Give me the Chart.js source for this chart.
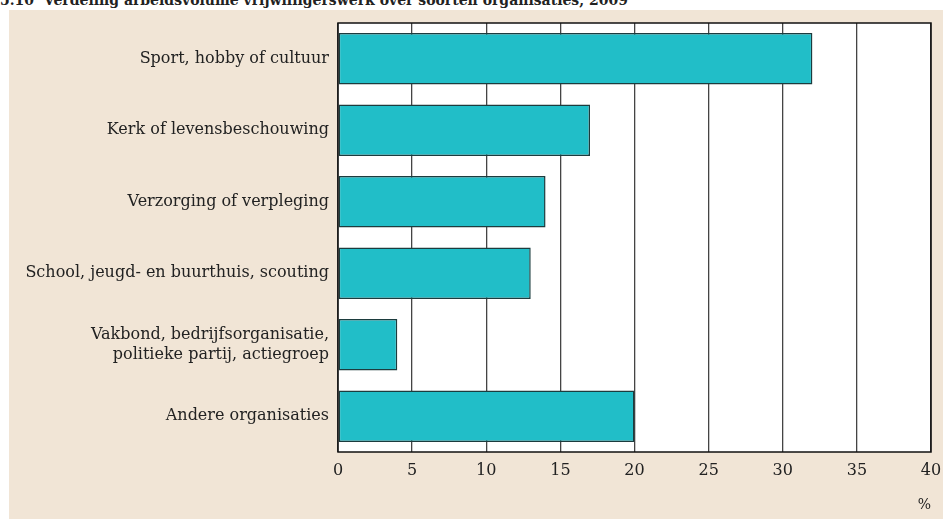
<!DOCTYPE html>
<html>
<head>
<meta charset="utf-8">
<script src="https://cdn.jsdelivr.net/npm/chart.js@4.4.0/dist/chart.umd.min.js"></script>
<style>
  body { margin: 0; background: #fff; }
  #wrap { position: relative; width: 943px; height: 519px; overflow: hidden; }
  #title { position: absolute; left: 0; top: -8px; font: bold 14px "DejaVu Serif", serif; color: #222; white-space: nowrap; }
  #panel { position: absolute; left: 9px; top: 10px; width: 934px; height: 509px; background: #f1e5d6; }
  canvas { position: absolute; left: 0; top: 0; }
</style>
</head>
<body>
<div id="wrap">
  <div id="title">5.10&nbsp;&nbsp;Verdeling arbeidsvolume vrijwilligerswerk over soorten organisaties, 2009</div>
  <div id="panel"></div>
  <canvas id="chart" width="943" height="519"></canvas>
</div>
<script>
// Data
const categories = [
    'Sport, hobby of cultuur',
    'Kerk of levensbeschouwing',
    'Verzorging of verpleging',
    'School, jeugd- en buurthuis, scouting',
    ['Vakbond, bedrijfsorganisatie,', 'politieke partij, actiegroep'],
    'Andere organisaties'
];
const shares = [32, 17, 14, 13, 4, 20];
const xTicks = [0, 5, 10, 15, 20, 25, 30, 35, 40];

const labelFont = 'DejaVu Serif';

// White plot area behind bars, black frame on top
const plotFrame = {
    id: 'plotFrame',
    beforeDraw(chart) {
        const { ctx, chartArea: a } = chart;
        ctx.save();
        ctx.fillStyle = '#ffffff';
        ctx.fillRect(a.left, a.top, a.right - a.left, a.bottom - a.top);
        ctx.restore();
    },
    afterDraw(chart) {
        const { ctx, chartArea: a } = chart;
        ctx.save();
        ctx.strokeStyle = '#111';
        ctx.lineWidth = 1.5;
        ctx.strokeRect(a.left, a.top, a.right - a.left, a.bottom - a.top);
        ctx.restore();
    }
};

const ctx = document.getElementById('chart').getContext('2d');
new Chart(ctx, {
    type: 'bar',
    data: {
        labels: categories,
        datasets: [{
            data: shares,
            backgroundColor: '#21bec8',
            borderColor: '#1c3c3e',
            borderWidth: 1.5,
            borderSkipped: false,
            categoryPercentage: 1,
            barPercentage: 0.72
        }]
    },
    options: {
        indexAxis: 'y',
        responsive: false,
        animation: false,
        layout: { padding: { left: 9, top: 23, right: 12, bottom: 0 } },
        plugins: {
            legend: { display: false },
            tooltip: { enabled: false }
        },
        scales: {
            x: {
                min: 0,
                max: 40,
                afterBuildTicks: scale => { scale.ticks = xTicks.map(v => ({ value: v })); },
                afterFit: scale => {
                    scale.height = 67;
                    scale.paddingLeft = 0;
                    scale.paddingRight = 0;
                },
                grid: { color: '#444', lineWidth: 1.3, drawTicks: false },
                border: { display: false },
                ticks: {
                    color: '#222',
                    padding: 9,
                    font: { family: labelFont, size: 16 }
                },
                title: {
                    display: true,
                    text: '%',
                    align: 'end',
                    color: '#222',
                    font: { family: labelFont, size: 14 },
                    padding: { top: 0, bottom: 5 }
                }
            },
            y: {
                afterFit: scale => { scale.width = 329; },
                grid: { display: false, drawTicks: false },
                border: { display: false },
                ticks: {
                    color: '#222',
                    padding: 9,
                    font: { family: labelFont, size: 16, lineHeight: 1.25 }
                }
            }
        }
    },
    plugins: [plotFrame]
});
</script>
</body>
</html>
